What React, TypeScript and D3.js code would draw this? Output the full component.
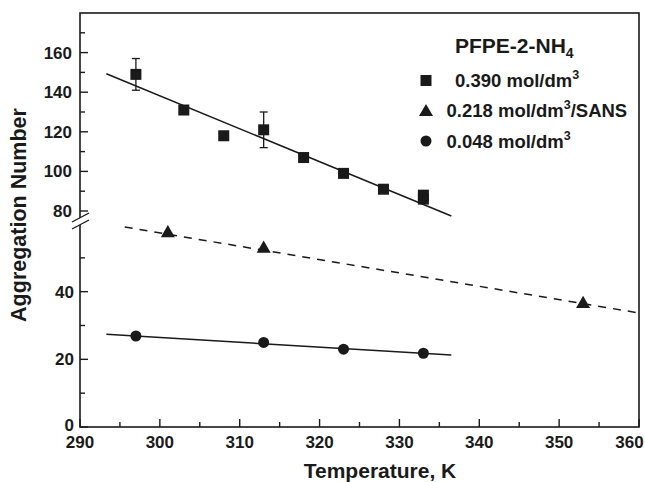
import React from "react";
import * as d3 from "d3";

// ---- data ----
const xTicks = [290, 300, 310, 320, 330, 340, 350, 360];
const xMinor = [295, 305, 315, 325, 335, 345, 355];
const yUpperTicks = [80, 100, 120, 140, 160];
const yUpperMinor = [90, 110, 130, 150, 170];
const yLowerTicks = [0, 20, 40];
const yLowerMinor = [10, 30, 50];

const sqT = [297, 303, 308, 313, 318, 323, 328, 333, 333];
const sqN = [149, 131, 118, 121, 107, 99, 91, 88, 86];
const errT = [297, 313];
const errLow = [141, 112];
const errHigh = [157, 130];
const sqFitT = [293.3, 336.5];
const sqFitN = [149.3, 77.5];

const triT = [301, 313, 353];
const triN = [57.3, 52.7, 36.4];
const triFitT = [295.6, 360];
const triFitN = [59.1, 33.7];

const cirT = [297, 313, 323, 333];
const cirN = [26.9, 25, 23, 21.8];
const cirFitT = [293.3, 336.5];
const cirFitN = [27.4, 21.3];

const legendLabels = ["0.390 mol/dm", "0.218 mol/dm", "0.048 mol/dm"];

const W = 645, H = 482;
const L = 80, R = 639, T = 13, B = 427;
const FONT = "'Liberation Sans', Arial, sans-serif";
const INK = "#1a1a1a";

export default function App() {
  const x = d3.scaleLinear().domain([290, 360]).range([L, R]);
  const yU = d3.scaleLinear().domain([80, 180]).range([211, T]);
  const yL = d3.scaleLinear().domain([0, 60]).range([B, 224]);
  const line = (ts: number[], ns: number[], y: d3.ScaleLinear<number, number>) =>
    d3.line<number>().x((_, i) => x(ts[i])).y((_, i) => y(ns[i]))(ts) || "";
  const tri = d3.symbol().type(d3.symbolTriangle).size(85)() || "";

  return (
    <svg width={W} height={H} style={{ position: "absolute", left: 0, top: 0, background: "#fff" }}
      fontFamily={FONT} fontWeight="bold" fill={INK}>
      {/* frame */}
      <rect x={L} y={T} width={R - L} height={B - T} fill="none" stroke={INK} strokeWidth={1.6} />
      {/* x ticks */}
      {xTicks.map((t) => (
        <g key={"xt" + t}>
          <line x1={x(t)} x2={x(t)} y1={B} y2={B - 8} stroke={INK} strokeWidth={1.4} />
          <text x={Math.min(x(t), W - 15.5)} y={448} fontSize={17} textAnchor="middle">{t}</text>
        </g>
      ))}
      {xMinor.map((t) => (
        <line key={"xm" + t} x1={x(t)} x2={x(t)} y1={B} y2={B - 5} stroke={INK} strokeWidth={1.4} />
      ))}
      {/* y ticks upper */}
      {yUpperTicks.map((t) => (
        <g key={"yu" + t}>
          <line x1={L} x2={L + 8} y1={yU(t)} y2={yU(t)} stroke={INK} strokeWidth={1.4} />
          <text x={72} y={yU(t) + 6} fontSize={17} textAnchor="end">{t}</text>
        </g>
      ))}
      {yUpperMinor.map((t) => (
        <line key={"yum" + t} x1={L} x2={L + 5} y1={yU(t)} y2={yU(t)} stroke={INK} strokeWidth={1.4} />
      ))}
      {yLowerTicks.map((t) => (
        <g key={"yl" + t}>
          <line x1={L} x2={L + 8} y1={yL(t)} y2={yL(t)} stroke={INK} strokeWidth={1.4} />
          <text x={74} y={yL(t) + (t === 0 ? 4 : 6)} fontSize={17} textAnchor="end">{t}</text>
        </g>
      ))}
      {yLowerMinor.map((t) => (
        <line key={"ylm" + t} x1={L} x2={L + 5} y1={yL(t)} y2={yL(t)} stroke={INK} strokeWidth={1.4} />
      ))}
      {/* axis break */}
      <polygon points="72,222 89,213 89,220 72,229" fill="#fff" />
      <line x1={72} y1={222} x2={89} y2={213} stroke={INK} strokeWidth={1.4} />
      <line x1={72} y1={229} x2={89} y2={220} stroke={INK} strokeWidth={1.4} />

      {/* axis titles */}
      <text x={380} y={478} fontSize={21} textAnchor="middle">Temperature, K</text>
      <text transform="translate(26,215) rotate(-90)" fontSize={21.5} textAnchor="middle">Aggregation Number</text>

      {/* fit lines */}
      <path d={line(sqFitT, sqFitN, yU)} fill="none" stroke={INK} strokeWidth={1.5} />
      <path d={line(triFitT, triFitN, yL)} fill="none" stroke={INK} strokeWidth={1.5} strokeDasharray="8,7" />
      <path d={line(cirFitT, cirFitN, yL)} fill="none" stroke={INK} strokeWidth={1.5} />

      {/* error bars */}
      {errT.map((t, i) => (
        <g key={"e" + i} stroke={INK} strokeWidth={1.3}>
          <line x1={x(t)} x2={x(t)} y1={yU(errLow[i])} y2={yU(errHigh[i])} />
          <line x1={x(t) - 4} x2={x(t) + 4} y1={yU(errLow[i])} y2={yU(errLow[i])} />
          <line x1={x(t) - 4} x2={x(t) + 4} y1={yU(errHigh[i])} y2={yU(errHigh[i])} />
        </g>
      ))}
      {/* markers */}
      {sqT.map((t, i) => (
        <rect key={"s" + i} x={x(t) - 5.5} y={yU(sqN[i]) - 5.5} width={11} height={11} fill={INK} />
      ))}
      {triT.map((t, i) => (
        <path key={"t" + i} d={tri} transform={`translate(${x(t)},${yL(triN[i])})`} fill={INK} />
      ))}
      {cirT.map((t, i) => (
        <circle key={"c" + i} cx={x(t)} cy={yL(cirN[i])} r={5.5} fill={INK} />
      ))}

      {/* legend */}
      <text x={455} y={53} fontSize={21}>PFPE-2-NH<tspan fontSize={14} dy={5}>4</tspan></text>
      <rect x={420.5} y={75} width={11} height={11} fill={INK} />
      <text x={455} y={87} fontSize={18.5}>{legendLabels[0]}<tspan fontSize={12.5} dy={-8}>3</tspan></text>
      <path d={tri} transform="translate(426,112)" fill={INK} />
      <text x={446.5} y={117} fontSize={18.5}>{legendLabels[1]}<tspan fontSize={12.5} dy={-8}>3</tspan><tspan dy={8}>/SANS</tspan></text>
      <circle cx={426} cy={141} r={5.5} fill={INK} />
      <text x={446.5} y={148} fontSize={18.5}>{legendLabels[2]}<tspan fontSize={12.5} dy={-8}>3</tspan></text>
    </svg>
  );
}
